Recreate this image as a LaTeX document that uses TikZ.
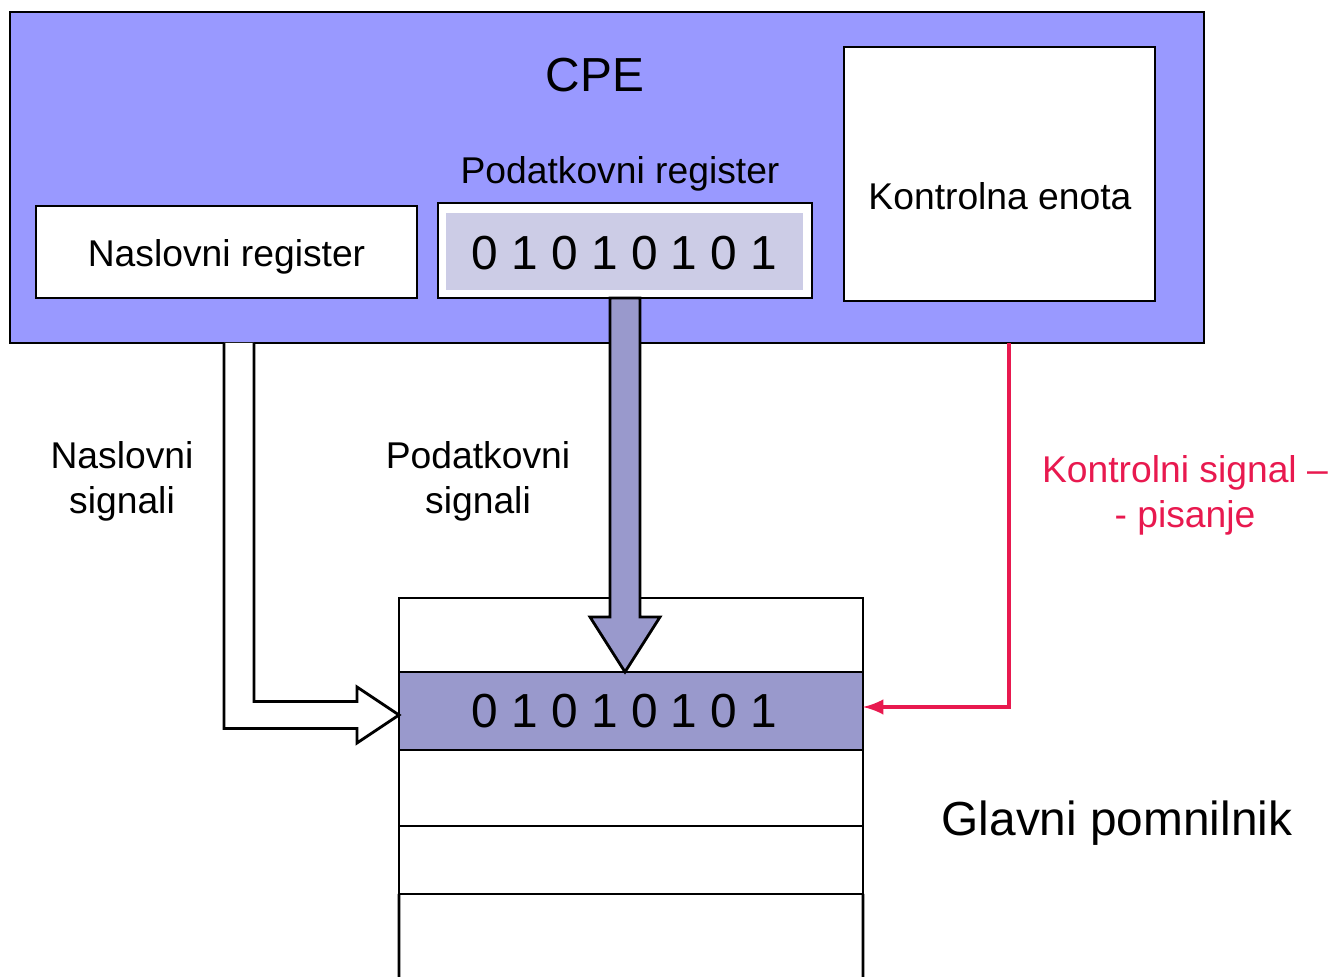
\documentclass[tikz,border=0pt]{standalone}
\usepackage{fontspec}
\setmainfont{Liberation Sans}
\usepackage{tikz}
\usetikzlibrary{arrows,calc,positioning}

\definecolor{cpeblue}{HTML}{9999FF}
\definecolor{regfill}{HTML}{CCCCE6}
\definecolor{datafill}{HTML}{9999CC}
\definecolor{sigred}{HTML}{E8194F}

\tikzset{
  box/.style={draw,line width=0.8pt,inner sep=0pt,outer sep=0pt},
  txt/.style={font=\fontsize{10.6}{12.8}\selectfont,align=center},
  bigtxt/.style={font=\fontsize{13.6}{16}\selectfont},
  memrow/.style={box,fill=white,minimum width=4.64cm}
}

\begin{document}
\begin{tikzpicture}
        \useasboundingbox (0,0) rectangle (13.3,-9.77);
        % CPE
        \node[box,fill=cpeblue,minimum width=11.94cm,minimum height=3.31cm] (cpe) at (6.07,-1.775) {};
        \node[bigtxt] (cpelbl) at (5.95,-0.75) {CPE};
        \node[box,fill=white,minimum width=3.81cm,minimum height=0.92cm] (nreg) at (2.265,-2.52) {};
        \node[txt] (nreglbl) at (2.265,-2.57) {Naslovni register};
        \node[box,fill=white,minimum width=3.74cm,minimum height=0.95cm] (preg) at (6.25,-2.505) {};
        \node[fill=regfill,minimum width=3.57cm,minimum height=0.77cm,inner sep=0pt] (pregfill) at (6.245,-2.515) {};
        \node[bigtxt] (pregval) at (6.245,-2.535) {0 1 0 1 0 1 0 1};
        \node[txt] (preglbl) at (6.2,-1.74) {Podatkovni register};
        \node[box,fill=white,minimum width=3.11cm,minimum height=2.54cm] (ctrl) at (9.995,-1.74) {};
        \node[txt] (ctrllbl) at (10.0,-1.96) {Kontrolna enota};
        % memory
        \node[memrow,minimum height=0.74cm] (row0) at (6.31,-6.35) {};
        \node[memrow,fill=datafill,minimum height=0.78cm] (row1) at (6.31,-7.11) {};
        \node[bigtxt] (memval) at (6.245,-7.11) {0 1 0 1 0 1 0 1};
        \node[memrow,minimum height=0.76cm] (row2) at (6.31,-7.88) {};
        \node[memrow,minimum height=0.68cm] (row3) at (6.31,-8.60) {};
        \coordinate (memsw) at (3.99,-9.9);
        \coordinate (memse) at (8.63,-9.9);
        \draw[line width=0.8pt] (row3.south west) -- (memsw);
        \draw[line width=0.8pt] (row3.south east) -- (memse);
        % data bus
        \coordinate (dtip) at (preg.south |- row1.north);
        \draw[line width=0.8pt,fill=datafill] ([xshift=-1.5mm]preg.south) -- ([xshift=-1.5mm,yshift=5.5mm]dtip)
          -- ([xshift=-3.5mm,yshift=5.5mm]dtip) -- (dtip) -- ([xshift=3.5mm,yshift=5.5mm]dtip)
          -- ([xshift=1.5mm,yshift=5.5mm]dtip) -- ([xshift=1.5mm]preg.south) -- cycle;
        % address bus
        \coordinate (aout) at (2.24,-3.43);
        \coordinate (ain) at (2.54,-3.43);
        \coordinate (hb) at (3.57,-7.15);
        \draw[line width=0.8pt,fill=white] (aout) |- ([yshift=-1.35mm]hb) -- ([yshift=-2.8mm]hb) -- ([yshift=-0.4mm]row1.west)
          -- ([yshift=2.8mm]hb) -- ([yshift=1.35mm]hb) -| (ain);
        % control signal
        \coordinate (cs) at (10.09,-3.43);
        \draw[sigred,line width=1pt,-latex] (cs) |- ([yshift=0.4mm]row1.east);
        % labels
        \node[txt] (nsig) at (1.22,-4.815) {Naslovni\\signali};
        \node[txt] (psig) at (4.78,-4.815) {Podatkovni\\signali};
        \node[txt,text=sigred] (csig) at (11.85,-4.955) {Kontrolni signal --\\- pisanje};
        \node[bigtxt] (mem) at (11.17,-8.23) {Glavni pomnilnik};
      \end{tikzpicture}
\end{document}
